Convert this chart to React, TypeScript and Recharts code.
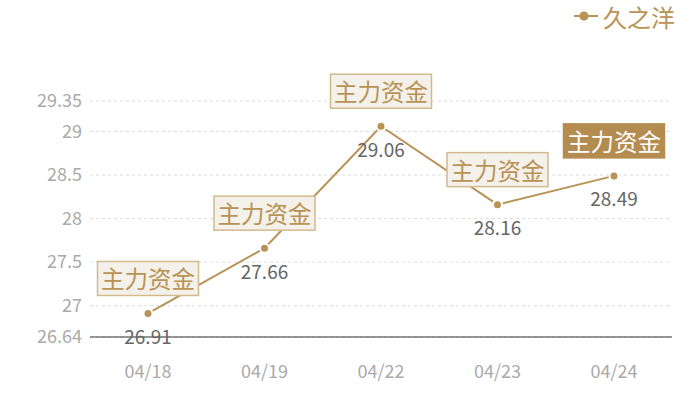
import React from "react";
import {
  LineChart,
  Line,
  XAxis,
  YAxis,
  CartesianGrid,
  Legend,
  LabelList,
} from "recharts";

const dates = ["04/18", "04/19", "04/22", "04/23", "04/24"];
const prices = [26.91, 27.66, 29.06, 28.16, 28.49];
const yTicks = [26.64, 27, 27.5, 28, 28.5, 29, 29.35];
const tagText = "主力资金";
const seriesName = "久之洋";
const highlightIndex = 4;

const GOLD = "#b89355";
const FONT = '"Noto Sans CJK SC", "Noto Sans", sans-serif';

const data = dates.map((d, i) => ({ date: d, price: prices[i] }));

function TagLabel(props: any) {
  const { x, y, index } = props;
  const w = 101;
  const h = 34;
  const dark = index === highlightIndex;
  return (
    <g>
      <rect
        x={x - w / 2}
        y={y - 35 - h / 2}
        width={w}
        height={h}
        fill={dark ? "#b48c4f" : "#f4f0ea"}
        stroke={dark ? "#b48c4f" : "#d3b98e"}
        strokeWidth={1.5}
      />
      <text
        x={x}
        y={y - 35}
        textAnchor="middle"
        dominantBaseline="central"
        fontSize={23.5}
        fontFamily={FONT}
        fill={dark ? "#ffffff" : GOLD}
      >
        {tagText}
      </text>
    </g>
  );
}

function ValueLabel(props: any) {
  const { x, y, value } = props;
  return (
    <text
      x={x}
      y={y + 22}
      textAnchor="middle"
      dominantBaseline="central"
      fontSize={19}
      fontFamily={FONT}
      fill="#666666"
    >
      {value}
    </text>
  );
}

function LegendContent() {
  return (
    <svg width={110} height={32}>
      <line x1={4} y1={16} x2={28} y2={16} stroke={GOLD} strokeWidth={2} />
      <circle cx={14} cy={16} r={4.5} fill={GOLD} />
      <text
        x={33}
        y={16}
        dominantBaseline="central"
        fontSize={24}
        fontFamily={FONT}
        fill={GOLD}
      >
        {seriesName}
      </text>
    </svg>
  );
}

export default function App() {
  return (
    <div
      style={{
        position: "absolute",
        left: 0,
        top: 0,
        width: 700,
        height: 400,
        background: "#fff",
        fontFamily: FONT,
      }}
    >
      <LineChart
        width={700}
        height={400}
        data={data}
        margin={{ top: 64, right: 28, bottom: 33, left: 0 }}
      >
        <CartesianGrid
          vertical={false}
          stroke="#dcdcdc"
          strokeDasharray="3 3"
        />
        <XAxis
          dataKey="date"
          axisLine={{ stroke: "#333333", strokeWidth: 1 }}
          tickLine={false}
          tickSize={0}
          tickMargin={28}
          height={30}
          padding={{ left: 58, right: 58 }}
          tick={{ fill: "#aaaaaa", fontSize: 18, fontFamily: FONT }}
        />
        <YAxis
          domain={[26.64, 29.35]}
          ticks={yTicks}
          width={90}
          axisLine={false}
          tickLine={false}
          tickSize={0}
          tickMargin={8}
          interval={0}
          tick={{ fill: "#aaaaaa", fontSize: 18, fontFamily: FONT }}
        />
        <Legend
          verticalAlign="top"
          align="right"
          wrapperStyle={{ top: 0, right: 20, left: "auto", width: "auto" }}
          content={<LegendContent />}
        />
        <Line
          type="linear"
          dataKey="price"
          name={seriesName}
          stroke={GOLD}
          strokeWidth={2}
          dot={{ r: 4.5, fill: GOLD, stroke: "#ffffff", strokeWidth: 2 }}
          activeDot={false}
          isAnimationActive={false}
        >
          <LabelList dataKey="price" content={<ValueLabel />} />
          <LabelList dataKey="price" content={<TagLabel />} />
        </Line>
      </LineChart>
    </div>
  );
}
